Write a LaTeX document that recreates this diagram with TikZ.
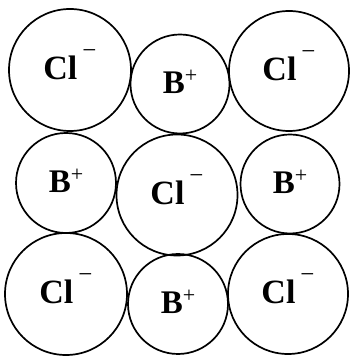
\documentclass[tikz,border=0pt]{standalone}
\usepackage{fontspec}
\setmainfont{Liberation Serif}
\usepackage{tikz}
\usetikzlibrary{positioning}

\newcommand{\clion}{\raisebox{0pt}[20pt][0pt]{\textbf{Cl}\hspace{5pt}\raisebox{21pt}{\fontsize{25}{25}\selectfont −}}}
\newcommand{\bion}{\raisebox{0pt}[20pt][0pt]{\textbf{B}\hspace{0pt}\raisebox{11pt}{\fontsize{22}{22}\selectfont +}}}

\begin{document}
\begin{tikzpicture}[
        x=1pt, y=1pt,
        anion/.style={draw, circle, line width=1.7pt, minimum size=122pt, inner sep=0pt, font=\fontsize{34}{36}\selectfont},
        cation/.style={draw, circle, line width=1.7pt, minimum size=99pt, inner sep=0pt, font=\fontsize{33}{36}\selectfont},
    ]
        \useasboundingbox (0,0) rectangle (349,358);

        % Top row
        \node[anion] (clTL) at (70,288) {\clion};
        \node[cation] (bT) at (180,274) {\bion};
        \node[anion, minimum size=120pt] (clTR) at (289,287) {\clion};

        % Middle row
        \node[cation, minimum size=100pt] (bL) at (66,175) {\bion};
        \node[anion, minimum size=121pt] (clC) at (177,163) {\clion};
        \node[cation] (bR) at (290,174) {\bion};

        % Bottom row
        \node[anion] (clBL) at (66,64) {\clion};
        \node[cation, minimum size=100pt] (bB) at (178,54) {\bion};
        \node[anion, minimum size=120pt] (clBR) at (288,64) {\clion};
    \end{tikzpicture}
\end{document}
